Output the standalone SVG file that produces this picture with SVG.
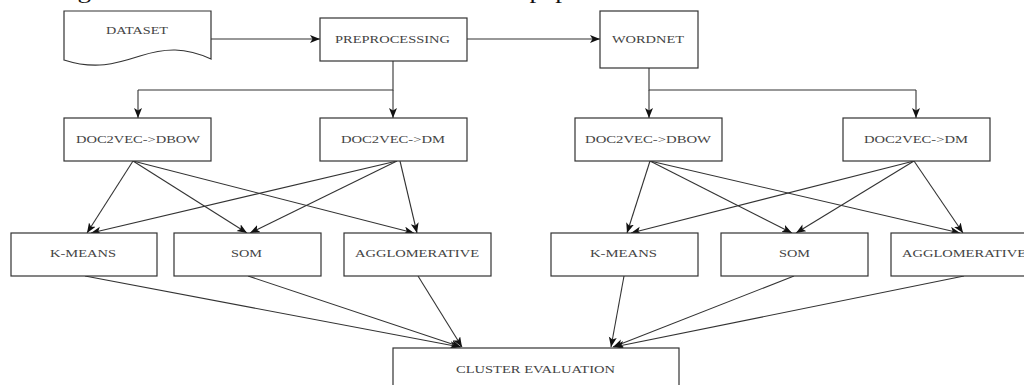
<svg xmlns="http://www.w3.org/2000/svg" width="1024" height="385" viewBox="0 0 1024 385">
<style>
.box{fill:#fff;stroke:#333;stroke-width:1.2}
.lbl{font-family:"Liberation Serif","Times New Roman",serif;font-size:11px;fill:#444;dominant-baseline:central}
.edge{fill:none;stroke:#333;stroke-width:1.1}
.arr{marker-end:url(#ah)}
</style>
<defs>
<marker id="ah" markerUnits="userSpaceOnUse" markerWidth="11" markerHeight="9" refX="10" refY="4" orient="auto">
<path d="M0,0 L10,4 L0,8 L2.5,4 Z" fill="#111"/>
</marker>
</defs>
<rect width="1024" height="385" fill="#fff"/>
<text x="-16" y="-2.5" font-family="Liberation Serif, serif" font-size="21" fill="#111" textLength="755" lengthAdjust="spacingAndGlyphs">clustering and Cluster evaluation. The flow of the paper is as follows.</text>

<g id="connectors">
<path class="edge arr" d="M211,39 H320"/>
<path class="edge arr" d="M467,39 H600"/>
<path class="edge" d="M393,61 V90 H138"/>
<path class="edge arr" d="M138,90 V118"/>
<path class="edge arr" d="M393,90 V118"/>
<path class="edge" d="M649,68 V90 H916"/>
<path class="edge arr" d="M649,90 V118"/>
<path class="edge arr" d="M916,90 V118"/>
<path class="edge arr" d="M133,161 L87,233"/>
<path class="edge arr" d="M133,161 L247,233"/>
<path class="edge arr" d="M133,161 L414,233"/>
<path class="edge arr" d="M397,161 L91,233"/>
<path class="edge arr" d="M397,161 L250,233"/>
<path class="edge arr" d="M400,161 L417,233"/>
<path class="edge arr" d="M650,161 L627,233"/>
<path class="edge arr" d="M650,161 L792,233"/>
<path class="edge arr" d="M650,161 L960,233"/>
<path class="edge arr" d="M914,161 L631,233"/>
<path class="edge arr" d="M914,161 L796,233"/>
<path class="edge arr" d="M914,161 L963,233"/>
<path class="edge arr" d="M85,276 L460,347"/>
<path class="edge arr" d="M248,276 L461,347"/>
<path class="edge arr" d="M418,276 L462,347"/>
<path class="edge arr" d="M624,276 L611,347"/>
<path class="edge arr" d="M794,276 L613,347"/>
<path class="edge arr" d="M964,276 L614,347"/>
</g>

<g id="dataset">
<path class="box" d="M64,11 H211 V59 C185,47 165,48 140,56 C115,64 95,70 64,60 Z"/>
<text class="lbl" x="106" y="30" textLength="62" lengthAdjust="spacingAndGlyphs">DATASET</text>
</g>
<g id="preprocessing">
<rect class="box" x="320" y="18" width="147" height="43"/>
<text class="lbl" x="335" y="39" textLength="115" lengthAdjust="spacingAndGlyphs">PREPROCESSING</text>
</g>
<g id="wordnet">
<rect class="box" x="600" y="11" width="98" height="57"/>
<text class="lbl" x="612" y="39" textLength="72" lengthAdjust="spacingAndGlyphs">WORDNET</text>
</g>
<g id="dbow-left">
<rect class="box" x="64" y="118" width="147" height="43"/>
<text class="lbl" x="76" y="139" textLength="124" lengthAdjust="spacingAndGlyphs">DOC2VEC-&gt;DBOW</text>
</g>
<g id="dm-left">
<rect class="box" x="320" y="118" width="147" height="43"/>
<text class="lbl" x="341" y="139" textLength="104" lengthAdjust="spacingAndGlyphs">DOC2VEC-&gt;DM</text>
</g>
<g id="dbow-right">
<rect class="box" x="575" y="118" width="147" height="43"/>
<text class="lbl" x="585" y="139" textLength="126" lengthAdjust="spacingAndGlyphs">DOC2VEC-&gt;DBOW</text>
</g>
<g id="dm-right">
<rect class="box" x="843" y="118" width="147" height="43"/>
<text class="lbl" x="864" y="139" textLength="104" lengthAdjust="spacingAndGlyphs">DOC2VEC-&gt;DM</text>
</g>
<g id="kmeans-left">
<rect class="box" x="11" y="233" width="146" height="43"/>
<text class="lbl" x="50" y="253" textLength="66" lengthAdjust="spacingAndGlyphs">K-MEANS</text>
</g>
<g id="som-left">
<rect class="box" x="174" y="233" width="147" height="43"/>
<text class="lbl" x="231" y="253" textLength="31" lengthAdjust="spacingAndGlyphs">SOM</text>
</g>
<g id="agglomerative-left">
<rect class="box" x="344" y="233" width="147" height="43"/>
<text class="lbl" x="355" y="253" textLength="124" lengthAdjust="spacingAndGlyphs">AGGLOMERATIVE</text>
</g>
<g id="kmeans-right">
<rect class="box" x="551" y="233" width="147" height="43"/>
<text class="lbl" x="590" y="253" textLength="67" lengthAdjust="spacingAndGlyphs">K-MEANS</text>
</g>
<g id="som-right">
<rect class="box" x="721" y="233" width="147" height="43"/>
<text class="lbl" x="779" y="253" textLength="31" lengthAdjust="spacingAndGlyphs">SOM</text>
</g>
<g id="agglomerative-right">
<rect class="box" x="891" y="233" width="147" height="43"/>
<text class="lbl" x="902" y="253" textLength="124" lengthAdjust="spacingAndGlyphs">AGGLOMERATIVE</text>
</g>
<g id="cluster-evaluation">
<rect class="box" x="393" y="348" width="286" height="50"/>
<text class="lbl" x="456" y="369" textLength="159" lengthAdjust="spacingAndGlyphs">CLUSTER EVALUATION</text>
</g>
</svg>
